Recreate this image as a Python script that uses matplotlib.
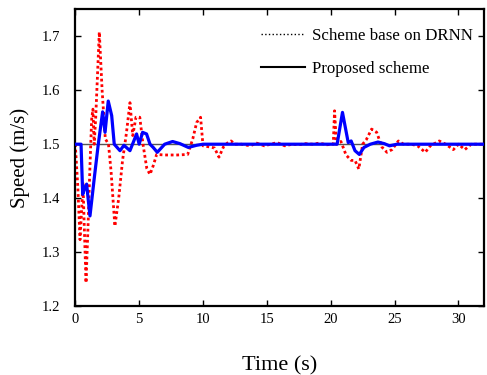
import matplotlib
matplotlib.use("Agg")
import matplotlib.pyplot as plt
from matplotlib.lines import Line2D

plt.rcParams['font.family'] = ['Liberation Serif', 'DejaVu Serif']

# DRNN scheme (red dotted)
drnn_t = [0.0, 0.2, 0.37, 0.5, 0.6, 0.7, 0.84, 1.0, 1.15, 1.28, 1.38, 1.48, 1.6,
          1.88, 2.1, 2.35, 2.6, 2.8, 3.1, 3.4, 3.7, 4.0, 4.28, 4.5, 4.75, 5.05,
          5.3, 5.6, 5.85, 6.1, 6.37, 7.0, 8.0, 8.8, 9.2, 9.5, 9.81, 10.0, 10.5,
          10.9, 11.25, 11.6, 11.9, 12.2, 12.5, 13.0, 13.7, 14.2, 14.8, 15.3, 15.8,
          16.4, 17.0, 17.5, 18.0, 18.6, 19.1, 19.7, 20.2, 20.3, 20.45, 20.8, 21.2,
          21.6, 21.9, 22.2, 22.5, 22.8, 23.2, 23.6, 24.0, 24.4, 24.8, 25.3, 25.7,
          26.3, 26.8, 27.4, 27.8, 28.5, 29.0, 29.6, 30.0, 30.5, 31.0, 32.0]
drnn_v = [1.50, 1.42, 1.323, 1.38, 1.43, 1.35, 1.243, 1.35, 1.46, 1.546, 1.565, 1.50, 1.55,
          1.708, 1.60, 1.51, 1.50, 1.45, 1.348, 1.40, 1.47, 1.52, 1.577, 1.516, 1.55, 1.55,
          1.50, 1.455, 1.444, 1.46, 1.481, 1.48, 1.48, 1.481, 1.51, 1.54, 1.55, 1.497, 1.495,
          1.493, 1.476, 1.495, 1.502, 1.506, 1.50, 1.50, 1.497, 1.502, 1.497, 1.500, 1.503,
          1.497, 1.500, 1.499, 1.501, 1.500, 1.502, 1.499, 1.50, 1.562, 1.50, 1.505, 1.48,
          1.47, 1.47, 1.454, 1.50, 1.509, 1.528, 1.522, 1.495, 1.485, 1.49, 1.506, 1.50,
          1.50, 1.497, 1.485, 1.497, 1.506, 1.50, 1.49, 1.50, 1.49, 1.50, 1.50]

# Proposed scheme (blue solid)
prop_t = [0.0, 0.45, 0.58, 0.75, 0.89, 1.0, 1.15, 1.5, 1.8, 2.14, 2.33, 2.58, 2.85,
          3.05, 3.5, 3.81, 4.28, 4.8, 5.0, 5.27, 5.58, 5.85, 6.1, 6.42, 7.0, 7.62,
          8.2, 8.85, 9.5, 10.0, 20.5, 20.92, 21.37, 21.6, 21.9, 22.24, 22.6, 23.1,
          23.7, 24.2, 24.6, 25.2, 32.0]
prop_v = [1.5, 1.5, 1.407, 1.42, 1.426, 1.40, 1.367, 1.44, 1.50, 1.56, 1.522, 1.58, 1.553,
          1.50, 1.488, 1.498, 1.488, 1.519, 1.50, 1.522, 1.519, 1.50, 1.494, 1.485, 1.50, 1.505,
          1.501, 1.494, 1.498, 1.5, 1.5, 1.559, 1.503, 1.506, 1.488, 1.481, 1.494, 1.5,
          1.504, 1.501, 1.497, 1.5, 1.5]

ref_speed = 1.5

fig = plt.figure(figsize=(4.87, 3.75), dpi=100)
ax = fig.add_axes([0.1546, 0.184, 0.8392, 0.791])

ax.axhline(ref_speed, color='#555555', linewidth=1.0, zorder=1)
ax.plot(drnn_t, drnn_v, color='red', linestyle=(0, (1, 1)), linewidth=2.0, zorder=2)
ax.plot(prop_t, prop_v, color='blue', linestyle='-', linewidth=2.3, zorder=3)

ax.set_xlim(0, 32)
ax.set_ylim(1.2, 1.75)
ax.set_xticks([0, 5, 10, 15, 20, 25, 30])
ax.set_yticks([1.2, 1.3, 1.4, 1.5, 1.6, 1.7])
ax.set_yticklabels(['1.2', '1.3', '1.4', '1.5', '1.6', '1.7'])
ax.tick_params(direction='in', top=True, right=True, length=4, width=1,
               labelsize=10.5)
ax.tick_params(axis='x', pad=5)
ax.tick_params(axis='y', pad=11)
for sp in ax.spines.values():
    sp.set_linewidth(1.6)

ax.set_xlabel('Time (s)', fontsize=16, labelpad=22)
ax.set_ylabel('Speed (m/s)', fontsize=15, labelpad=8)

handles = [Line2D([], [], color='black', linestyle=':', linewidth=1.0),
           Line2D([], [], color='black', linestyle='-', linewidth=1.5)]
ax.legend(handles, ['Scheme base on DRNN', 'Proposed scheme'],
          loc='upper left', bbox_to_anchor=(0.418, 0.99), frameon=False,
          fontsize=12.2, handlelength=2.6, labelspacing=1.0, handletextpad=0.4)

fig.savefig('out.png', dpi=100)
